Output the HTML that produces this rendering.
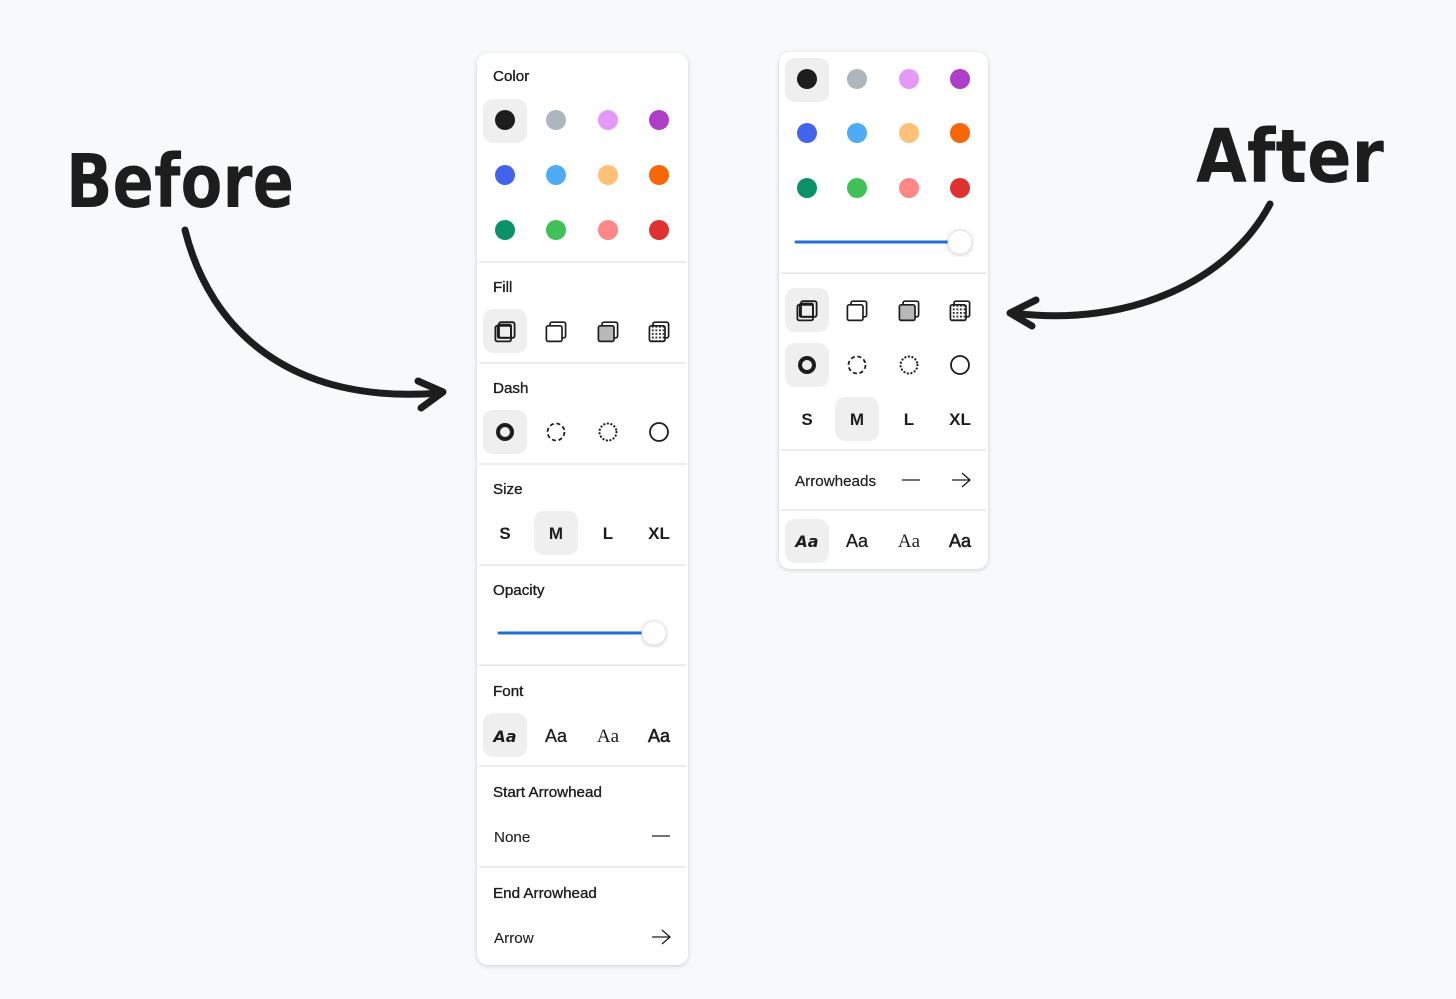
<!DOCTYPE html>
<html><head><meta charset="utf-8"><style>
html,body{margin:0;padding:0;background:#f8f9fb;}
svg{display:block;}
.l{font-family:"Liberation Sans",sans-serif;font-size:15.2px;fill:#1d1d1d;stroke:#1d1d1d;stroke-width:0.35px;}
.s{font-family:"Liberation Sans",sans-serif;font-size:17px;font-weight:bold;fill:#1d1d1d;text-anchor:middle;}
.h{font-family:"DejaVu Sans",sans-serif;font-weight:bold;font-size:74px;fill:#1d1d1d;}
</style></head><body>
<svg width="1456" height="999" viewBox="0 0 1456 999" xmlns="http://www.w3.org/2000/svg">
<defs>
<filter id="sh" x="-10%" y="-10%" width="120%" height="120%"><feDropShadow dx="0" dy="1" stdDeviation="2" flood-color="#000" flood-opacity="0.18"/></filter>
<pattern id="pt" width="3" height="3" patternUnits="userSpaceOnUse"><rect width="3" height="3" fill="#fff"/><rect width="1.6" height="1.6" fill="#333"/></pattern>
<g id="f0" fill="none" stroke="#1d1d1d" stroke-width="1.5" transform="scale(1.2)"><rect x="-5" y="-9" width="13" height="13" rx="1.5"/><rect x="-8" y="-6" width="13" height="13" rx="1.5"/><rect x="-6" y="-7" width="11" height="11" rx="1"/></g>
<g id="f1" stroke="#1d1d1d" stroke-width="1.4" transform="scale(1.2)"><rect x="-5" y="-9" width="13" height="13" rx="1.5" fill="#fff"/><rect x="-8" y="-6" width="13" height="13" rx="1.5" fill="#fff"/></g>
<g id="f2" stroke="#1d1d1d" stroke-width="1.4" transform="scale(1.2)"><rect x="-5" y="-9" width="13" height="13" rx="1.5" fill="#fff"/><rect x="-8" y="-6" width="13" height="13" rx="1.5" fill="#b9b9b9"/></g>
<g id="f3" stroke="#1d1d1d" stroke-width="1.4" transform="scale(1.2)"><rect x="-5" y="-9" width="13" height="13" rx="1.5" fill="#fff"/><rect x="-8" y="-6" width="13" height="13" rx="1.5" fill="url(#pt)"/></g>
<circle id="d0" r="7" fill="none" stroke="#1d1d1d" stroke-width="4"/>
<circle id="d1" r="8.5" fill="none" stroke="#1d1d1d" stroke-width="1.8" stroke-dasharray="4 2.7"/>
<circle id="d2" r="8.5" fill="none" stroke="#1d1d1d" stroke-width="2.2" stroke-dasharray="0.1 3.5" stroke-linecap="round"/>
<circle id="d3" r="9" fill="none" stroke="#1d1d1d" stroke-width="1.8"/>
<rect id="sel" x="-22" y="-22" width="44" height="44" rx="10" fill="#efefef"/>
</defs>

<text class="h" x="66" y="207" textLength="228" lengthAdjust="spacingAndGlyphs">Before</text>
<text class="h" x="1196" y="182" textLength="188" lengthAdjust="spacingAndGlyphs">After</text>

<g fill="none" stroke="#1d1d1d" stroke-width="7" stroke-linecap="round" stroke-linejoin="round">
<path d="M185,230 C210,330 290,405 440,393"/>
<path d="M418,381 L443,392 L421,408"/>
<path d="M1270,204 C1230,280 1130,328 1013,313"/>
<path d="M1036,300 L1010,313 L1032,326"/>
</g>

<rect x="477" y="53" width="211" height="912" rx="11" fill="#fff" filter="url(#sh)"/>
<g stroke="#e6e6e6" stroke-width="1.5">
<line x1="479" y1="262" x2="686" y2="262"/><line x1="479" y1="363" x2="686" y2="363"/>
<line x1="479" y1="464" x2="686" y2="464"/><line x1="479" y1="565" x2="686" y2="565"/>
<line x1="479" y1="665" x2="686" y2="665"/><line x1="479" y1="766" x2="686" y2="766"/>
<line x1="479" y1="867" x2="686" y2="867"/>
</g>
<text class="l" x="493" y="81">Color</text>
<use href="#sel" x="505" y="121"/>
<g>
<circle cx="505" cy="120" r="10" fill="#1d1d1d"/><circle cx="556" cy="120" r="10" fill="#adb5bd"/><circle cx="608" cy="120" r="10" fill="#e599f7"/><circle cx="659" cy="120" r="10" fill="#ae3ec9"/>
<circle cx="505" cy="175" r="10" fill="#4263eb"/><circle cx="556" cy="175" r="10" fill="#4dabf7"/><circle cx="608" cy="175" r="10" fill="#ffc078"/><circle cx="659" cy="175" r="10" fill="#f76707"/>
<circle cx="505" cy="230" r="10" fill="#099268"/><circle cx="556" cy="230" r="10" fill="#40c057"/><circle cx="608" cy="230" r="10" fill="#ff8787"/><circle cx="659" cy="230" r="10" fill="#e03131"/>
</g>
<text class="l" x="493" y="292">Fill</text>
<use href="#sel" x="505" y="331"/>
<use href="#f0" x="505" y="333"/><use href="#f1" x="556" y="333"/><use href="#f2" x="608" y="333"/><use href="#f3" x="659" y="333"/>
<text class="l" x="493" y="393">Dash</text>
<use href="#sel" x="505" y="432"/>
<use href="#d0" x="505" y="432"/><use href="#d1" x="556" y="432"/><use href="#d2" x="608" y="432"/><use href="#d3" x="659" y="432"/>
<text class="l" x="493" y="494">Size</text>
<use href="#sel" x="556" y="533"/>
<text class="s" x="505" y="539">S</text><text class="s" x="556" y="539">M</text><text class="s" x="608" y="539">L</text><text class="s" x="659" y="539">XL</text>
<text class="l" x="493" y="595">Opacity</text>
<line x1="499" y1="633" x2="645" y2="633" stroke="#1f6fd6" stroke-width="3" stroke-linecap="round"/>
<circle cx="654" cy="633" r="12" fill="#fff" stroke="#e4e4e4" filter="url(#sh)"/>
<text class="l" x="493" y="696">Font</text>
<use href="#sel" x="505" y="735"/>
<text x="505" y="742" text-anchor="middle" style="font-family:'DejaVu Sans',sans-serif;font-style:italic;font-weight:bold;font-size:16px;fill:#1d1d1d">Aa</text>
<text x="556" y="742" text-anchor="middle" style="font-family:'Liberation Sans',sans-serif;font-size:18px;fill:#1d1d1d;stroke:#1d1d1d;stroke-width:0.3">Aa</text>
<text x="608" y="742" text-anchor="middle" style="font-family:'Liberation Serif',serif;font-size:19px;fill:#1d1d1d">Aa</text>
<text x="659" y="742" text-anchor="middle" style="font-family:'Liberation Sans',sans-serif;font-size:18px;fill:#1d1d1d;stroke:#1d1d1d;stroke-width:0.6">Aa</text>
<text class="l" x="493" y="797">Start Arrowhead</text>
<text class="l" x="494" y="842" style="stroke-width:0.1">None</text>
<line x1="652" y1="836" x2="670" y2="836" stroke="#1d1d1d" stroke-width="1.3"/>
<text class="l" x="493" y="898">End Arrowhead</text>
<text class="l" x="494" y="943" style="stroke-width:0.1">Arrow</text>
<g fill="none" stroke="#1d1d1d" stroke-width="1.3"><line x1="652" y1="937" x2="670" y2="937"/><path d="M662,930 L670,937 L662,944"/></g>

<rect x="779" y="52" width="209" height="517" rx="11" fill="#fff" filter="url(#sh)"/>
<g stroke="#e6e6e6" stroke-width="1.5">
<line x1="781" y1="273" x2="986" y2="273"/><line x1="781" y1="450" x2="986" y2="450"/><line x1="781" y1="510" x2="986" y2="510"/>
</g>
<use href="#sel" x="807" y="80"/>
<g>
<circle cx="807" cy="79" r="10" fill="#1d1d1d"/><circle cx="857" cy="79" r="10" fill="#adb5bd"/><circle cx="909" cy="79" r="10" fill="#e599f7"/><circle cx="960" cy="79" r="10" fill="#ae3ec9"/>
<circle cx="807" cy="133" r="10" fill="#4263eb"/><circle cx="857" cy="133" r="10" fill="#4dabf7"/><circle cx="909" cy="133" r="10" fill="#ffc078"/><circle cx="960" cy="133" r="10" fill="#f76707"/>
<circle cx="807" cy="188" r="10" fill="#099268"/><circle cx="857" cy="188" r="10" fill="#40c057"/><circle cx="909" cy="188" r="10" fill="#ff8787"/><circle cx="960" cy="188" r="10" fill="#e03131"/>
</g>
<line x1="796" y1="242" x2="950" y2="242" stroke="#1f6fd6" stroke-width="3" stroke-linecap="round"/>
<circle cx="960" cy="242" r="12" fill="#fff" stroke="#e4e4e4" filter="url(#sh)"/>
<use href="#sel" x="807" y="310"/>
<use href="#f0" x="807" y="312"/><use href="#f1" x="857" y="312"/><use href="#f2" x="909" y="312"/><use href="#f3" x="960" y="312"/>
<use href="#sel" x="807" y="365"/>
<use href="#d0" x="807" y="365"/><use href="#d1" x="857" y="365"/><use href="#d2" x="909" y="365"/><use href="#d3" x="960" y="365"/>
<use href="#sel" x="857" y="419"/>
<text class="s" x="807" y="425">S</text><text class="s" x="857" y="425">M</text><text class="s" x="909" y="425">L</text><text class="s" x="960" y="425">XL</text>
<text class="l" x="795" y="486" style="stroke-width:0.2">Arrowheads</text>
<line x1="902" y1="480" x2="920" y2="480" stroke="#1d1d1d" stroke-width="1.3"/>
<g fill="none" stroke="#1d1d1d" stroke-width="1.3"><line x1="952" y1="480" x2="970" y2="480"/><path d="M962,473 L970,480 L962,487"/></g>
<use href="#sel" x="807" y="541"/>
<text x="807" y="547" text-anchor="middle" style="font-family:'DejaVu Sans',sans-serif;font-style:italic;font-weight:bold;font-size:16px;fill:#1d1d1d">Aa</text>
<text x="857" y="547" text-anchor="middle" style="font-family:'Liberation Sans',sans-serif;font-size:18px;fill:#1d1d1d;stroke:#1d1d1d;stroke-width:0.3">Aa</text>
<text x="909" y="547" text-anchor="middle" style="font-family:'Liberation Serif',serif;font-size:19px;fill:#1d1d1d">Aa</text>
<text x="960" y="547" text-anchor="middle" style="font-family:'Liberation Sans',sans-serif;font-size:18px;fill:#1d1d1d;stroke:#1d1d1d;stroke-width:0.6">Aa</text>
</svg>
</body></html>
